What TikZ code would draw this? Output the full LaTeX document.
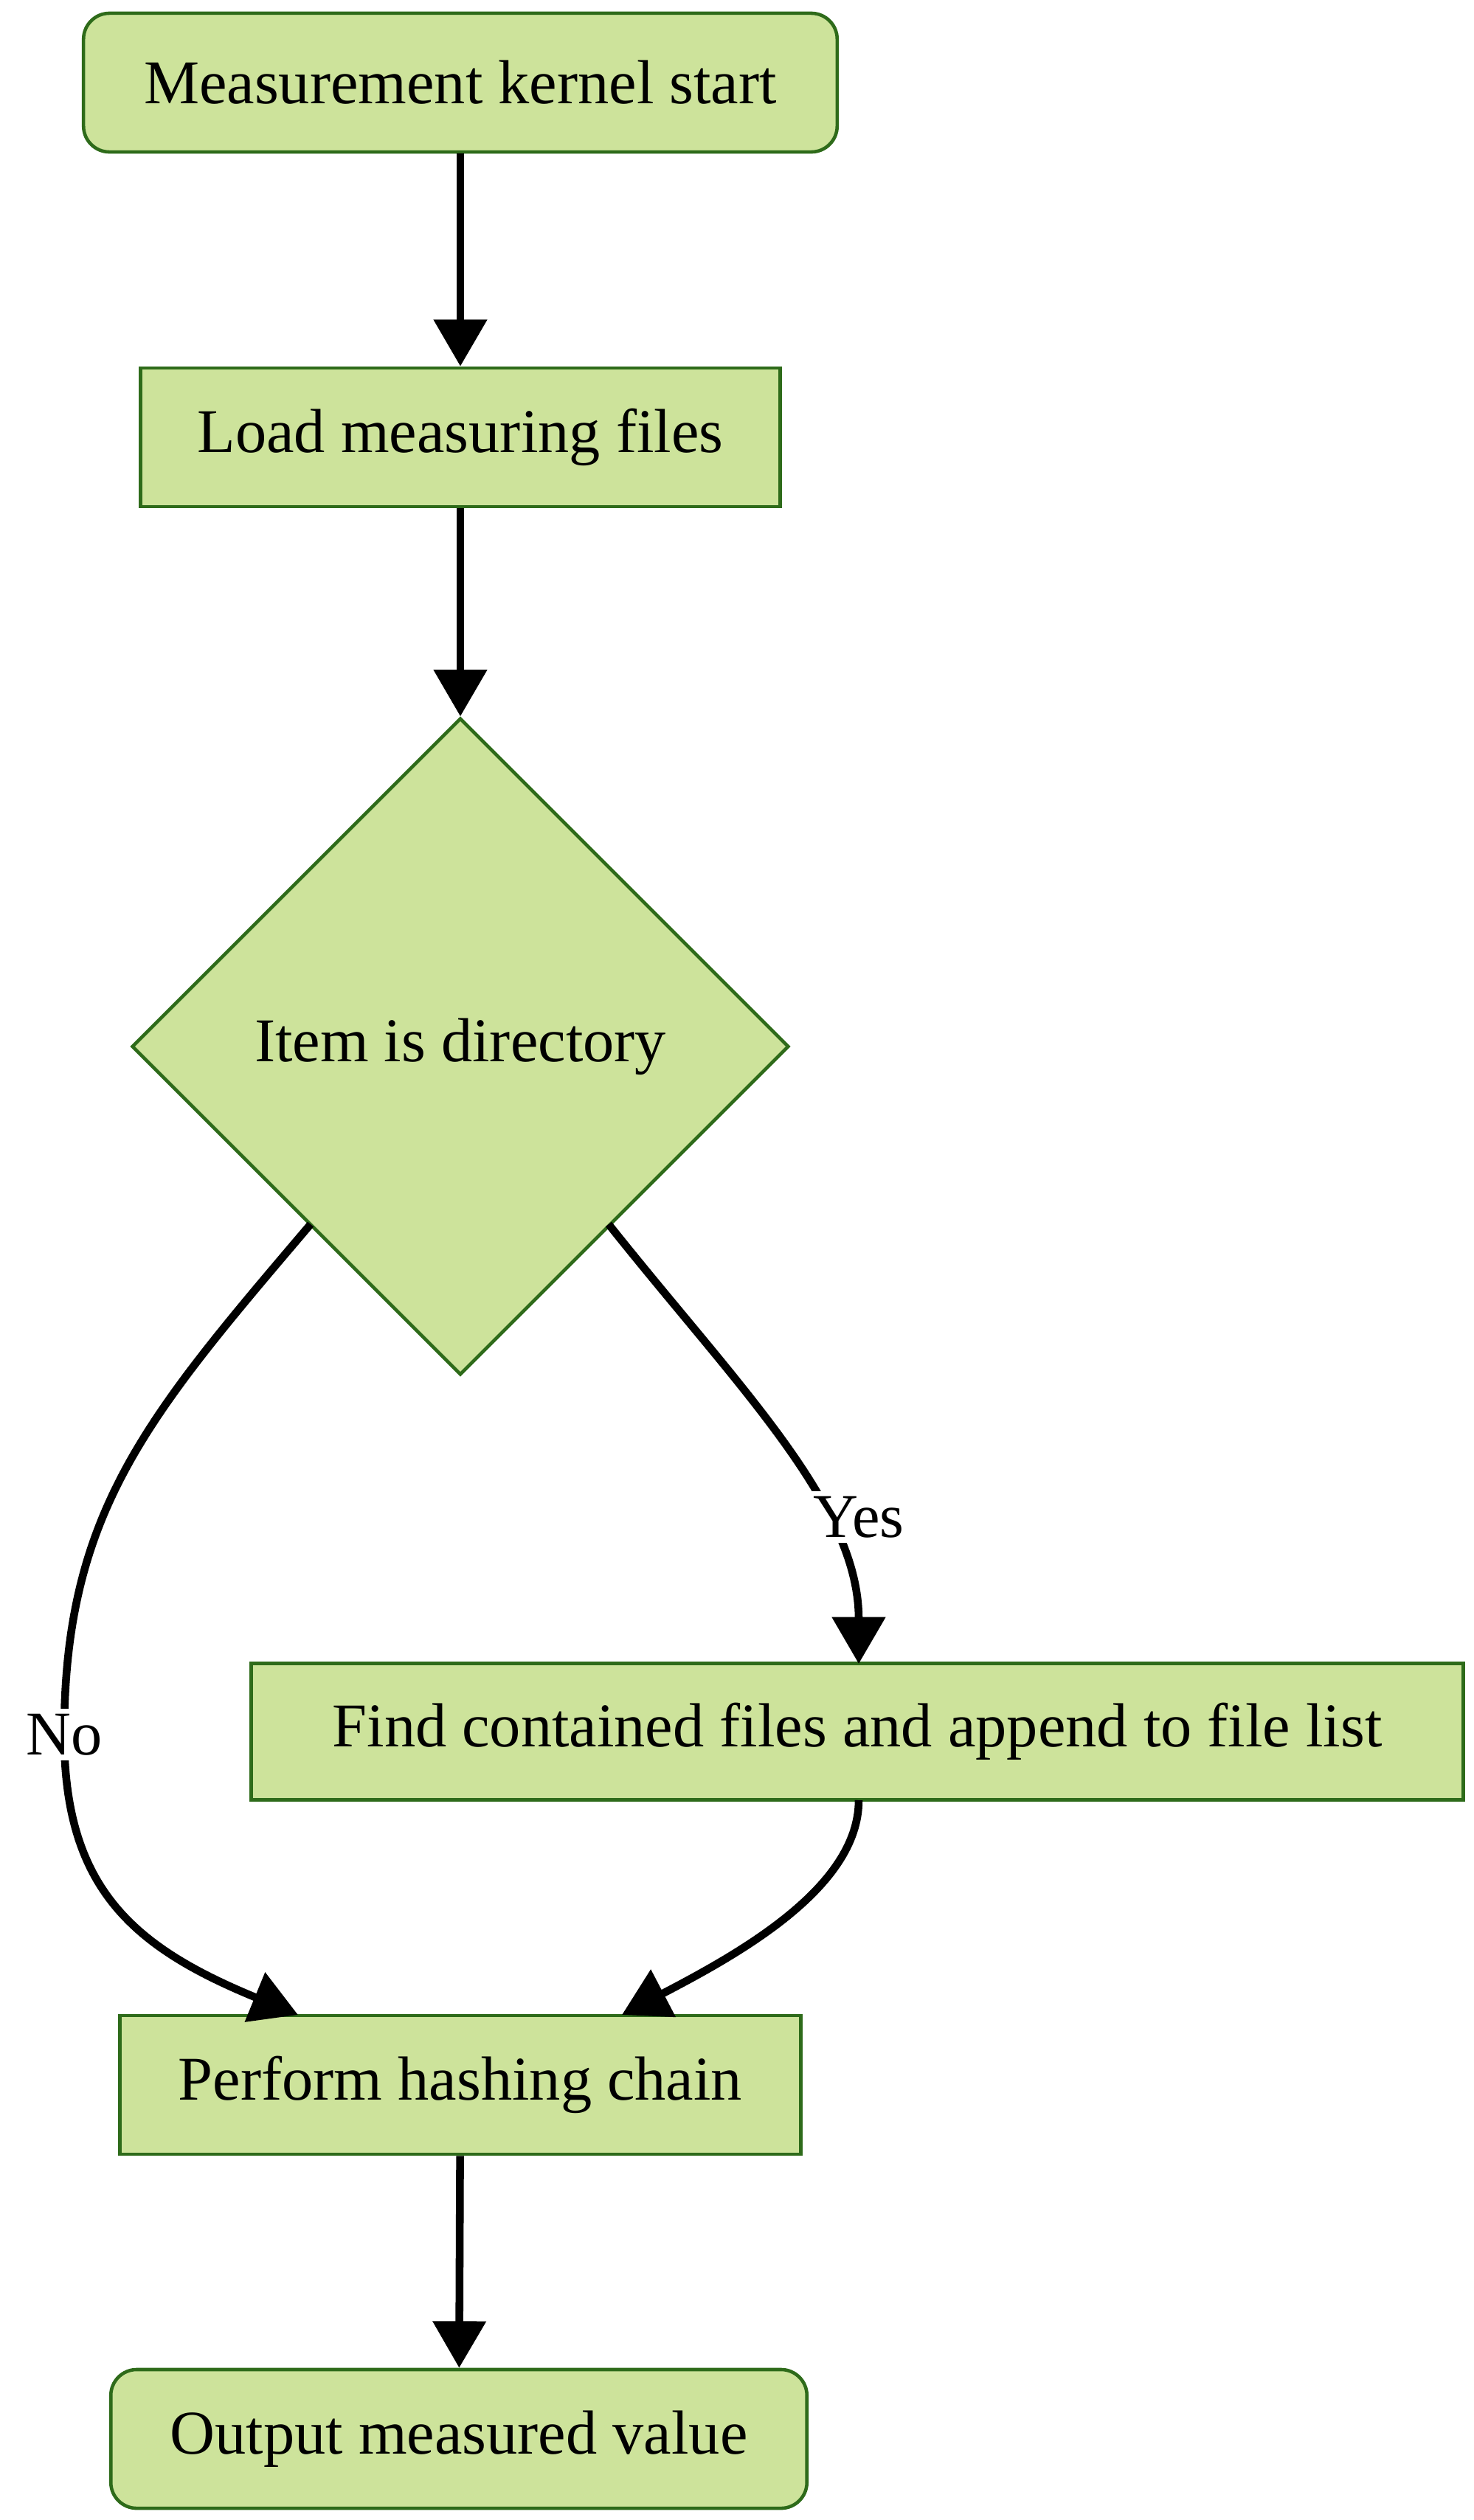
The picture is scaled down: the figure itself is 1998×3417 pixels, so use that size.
\documentclass[tikz,border=0pt]{standalone}
\usepackage{fontspec}
\setmainfont{Liberation Serif}
\usetikzlibrary{arrows.meta,shapes.geometric}
\definecolor{boxfill}{HTML}{CDE39B}
\definecolor{boxline}{HTML}{2E6B1A}
\begin{document}
\begin{tikzpicture}[x=0.01cm,y=-0.01cm,
  box/.style={draw=boxline,fill=boxfill,line width=1.3pt,minimum height=1.88cm,inner sep=0pt,font=\fontsize{24}{29}\selectfont},
  rbox/.style={box,rounded corners=10pt},
  dia/.style={draw=boxline,fill=boxfill,line width=1.3pt,diamond,minimum width=8.9cm,minimum height=8.9cm,inner sep=0pt,font=\fontsize{24}{29}\selectfont},
  arr/.style={line width=3pt,-{Triangle[length=18pt,width=20pt]}},
  lbl/.style={fill=white,inner sep=2pt,font=\fontsize{24}{29}\selectfont}]
\useasboundingbox (0,0) rectangle (1998,3417);
\node[rbox,minimum width=10.21cm] (start) at (624,112) {Measurement kernel start};
\node[box,minimum width=8.67cm] (load) at (624,593) {Load measuring files};
\node[dia] (dir) at (624,1419) {Item is directory};
\node[box,minimum width=16.42cm,minimum height=1.85cm] (find) at (1162,2348) {Find contained files and append to file list};
\node[box,minimum width=9.23cm] (hash) at (624,2827) {Perform hashing chain};
\node[rbox,minimum width=9.43cm] (out) at (622,3307) {Output measured value};
\coordinate (nostart) at (421,1660);
\coordinate (yesstart) at (825,1660);
\coordinate (hashL) at (404,2732);
\coordinate (hashR) at (843,2732);
\coordinate (findT) at (1164,2256);
\coordinate (findB) at (1164,2441);
\draw[arr] (start) -- (load);
\draw[arr] (load) -- (dir);
\draw[arr] (hash) -- (out);
\draw[arr] (nostart) .. controls (200,1920) and (87,2050) .. (87,2352) node[lbl] {No} .. controls (87,2560) and (180,2640) .. (hashL);
\draw[arr] (yesstart) .. controls (1000,1880) and (1164,2040) .. (1164,2256);
\node[lbl] (yes) at (1164,2057) {Yes};
\draw[arr] (findB) .. controls (1164,2560) and (1000,2650) .. (hashR);
\end{tikzpicture}
\end{document}
